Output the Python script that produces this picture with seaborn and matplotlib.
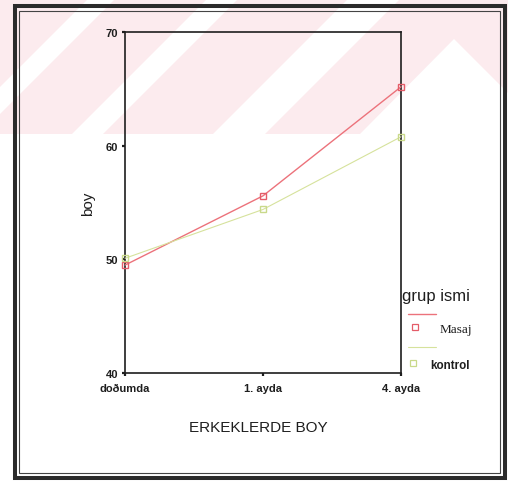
import matplotlib
matplotlib.use("Agg")
import matplotlib.pyplot as plt
from matplotlib.patches import Polygon, Rectangle
from matplotlib.lines import Line2D
import pandas as pd
import seaborn as sns

# --- data -------------------------------------------------------------
zaman = ["doðumda", "1. ayda", "4. ayda"]
masaj = [49.5, 55.6, 65.2]
kontrol = [50.1, 54.4, 60.8]
gruplar = ["Masaj", "kontrol"]
y_ticks = [40, 50, 60, 70]

df = pd.DataFrame({
    "zaman": zaman * 2,
    "boy": masaj + kontrol,
    "grup": [gruplar[0]] * len(zaman) + [gruplar[1]] * len(zaman),
})

# --- style ------------------------------------------------------------
W, H = 508, 485
sns.set_style("white")
plt.rcParams["font.family"] = ["Liberation Sans", "DejaVu Sans"]

line_col = {"Masaj": "#ec727b", "kontrol": "#d6e29c"}
edge_col = {"Masaj": "#e45c68", "kontrol": "#c9d98a"}
line_w = {"Masaj": 1.0, "kontrol": 0.8}
ink = "#1e1e1e"

fig = plt.figure(figsize=(W / 100, H / 100), dpi=100)
fig.patch.set_facecolor("white")


def fx(x):
    return x / W


def fy(y):
    return 1 - y / H


def fpts(pts):
    return [(fx(a), fy(b)) for a, b in pts]


# pale pink banner with white diagonal bands behind the chart
band = 135
fig.add_artist(Rectangle((0, fy(band)), 1, band / H, transform=fig.transFigure,
                         facecolor="#fcebee", edgecolor="none", zorder=-3))
for c1, c2 in [(88, 115), (207, 238), (348, 400)]:
    pts = [(c1, 0), (c2, 0), (c2 - band, band), (c1 - band, band)]
    fig.add_artist(Polygon(fpts(pts), closed=True, transform=fig.transFigure,
                           facecolor="white", edgecolor="none", zorder=-2))
fig.add_artist(Polygon(fpts([(454, 40), (360, band), (508, band), (508, 94)]),
                       closed=True, transform=fig.transFigure,
                       facecolor="white", edgecolor="none", zorder=-2))

# double frame around the figure
fig.add_artist(Rectangle((fx(14.5), fy(478.5)), fx(505) - fx(14.5), fy(7) - fy(478.5),
                         transform=fig.transFigure, fill=False,
                         edgecolor="#2b2b2b", lw=2.9, zorder=5))
fig.add_artist(Rectangle((fx(18.5), fy(474)), fx(500) - fx(18.5), fy(12) - fy(474),
                         transform=fig.transFigure, fill=False,
                         edgecolor="#444444", lw=0.8, zorder=5))

# --- main axes --------------------------------------------------------
ax = fig.add_axes([fx(125), fy(374), fx(401) - fx(125), fy(33.3) - fy(374)])
ax.set_facecolor("none")

for g in gruplar:
    sns.lineplot(data=df[df["grup"] == g], x="zaman", y="boy", ax=ax,
                 color=line_col[g], lw=line_w[g], marker="s", markersize=5,
                 markerfacecolor="none", markeredgecolor=edge_col[g],
                 markeredgewidth=1.0, sort=False, estimator=None, legend=False,
                 clip_on=False, zorder=3)

ax.set_xlim(0, len(zaman) - 1)
ax.set_ylim(y_ticks[0], y_ticks[-1])
ax.set_yticks(y_ticks)
ax.grid(False)

for s in ax.spines.values():
    s.set_visible(True)
    s.set_color(ink)
    s.set_linewidth(1.2)

ax.tick_params(axis="both", direction="out", length=2.5, width=1.6, color=ink,
               labelsize=8.0, labelcolor=ink, left=True, bottom=True)
ax.tick_params(axis="x", pad=4.5)
ax.tick_params(axis="y", pad=2.2)
for lbl in ax.get_xticklabels() + ax.get_yticklabels():
    lbl.set_fontweight("bold")

ax.set_xlabel("ERKEKLERDE BOY", fontsize=11, color=ink)
ax.xaxis.set_label_coords(0.482, -0.138)
ax.set_ylabel("boy", fontsize=11, color=ink)
ax.yaxis.set_label_coords(-0.108, 0.5)

# --- legend -----------------------------------------------------------
fig.text(fx(402), fy(297), "grup ismi", fontsize=12, color=ink,
         ha="left", va="center")
legend_rows = [
    (gruplar[0], 315, 328, 415, 440, dict(family=["Liberation Serif"], fontsize=9.5)),
    (gruplar[1], 348, 364, 413, 430, dict(fontsize=8.4, fontweight="bold")),
]
for g, y_line, y_mark, x_mark, x_text, font in legend_rows:
    fig.add_artist(Line2D([fx(408), fx(436)], [fy(y_line)] * 2,
                          transform=fig.transFigure, color=line_col[g],
                          lw=line_w[g]))
    fig.add_artist(Line2D([fx(x_mark)], [fy(y_mark)], transform=fig.transFigure,
                          marker="s", markersize=4.5, markerfacecolor="none",
                          markeredgecolor=edge_col[g], markeredgewidth=0.9,
                          linestyle="none"))
    fig.text(fx(x_text), fy(y_mark + 2), g, color=ink, ha="left", va="center",
             **font)

fig.savefig("out.png", dpi=100)
